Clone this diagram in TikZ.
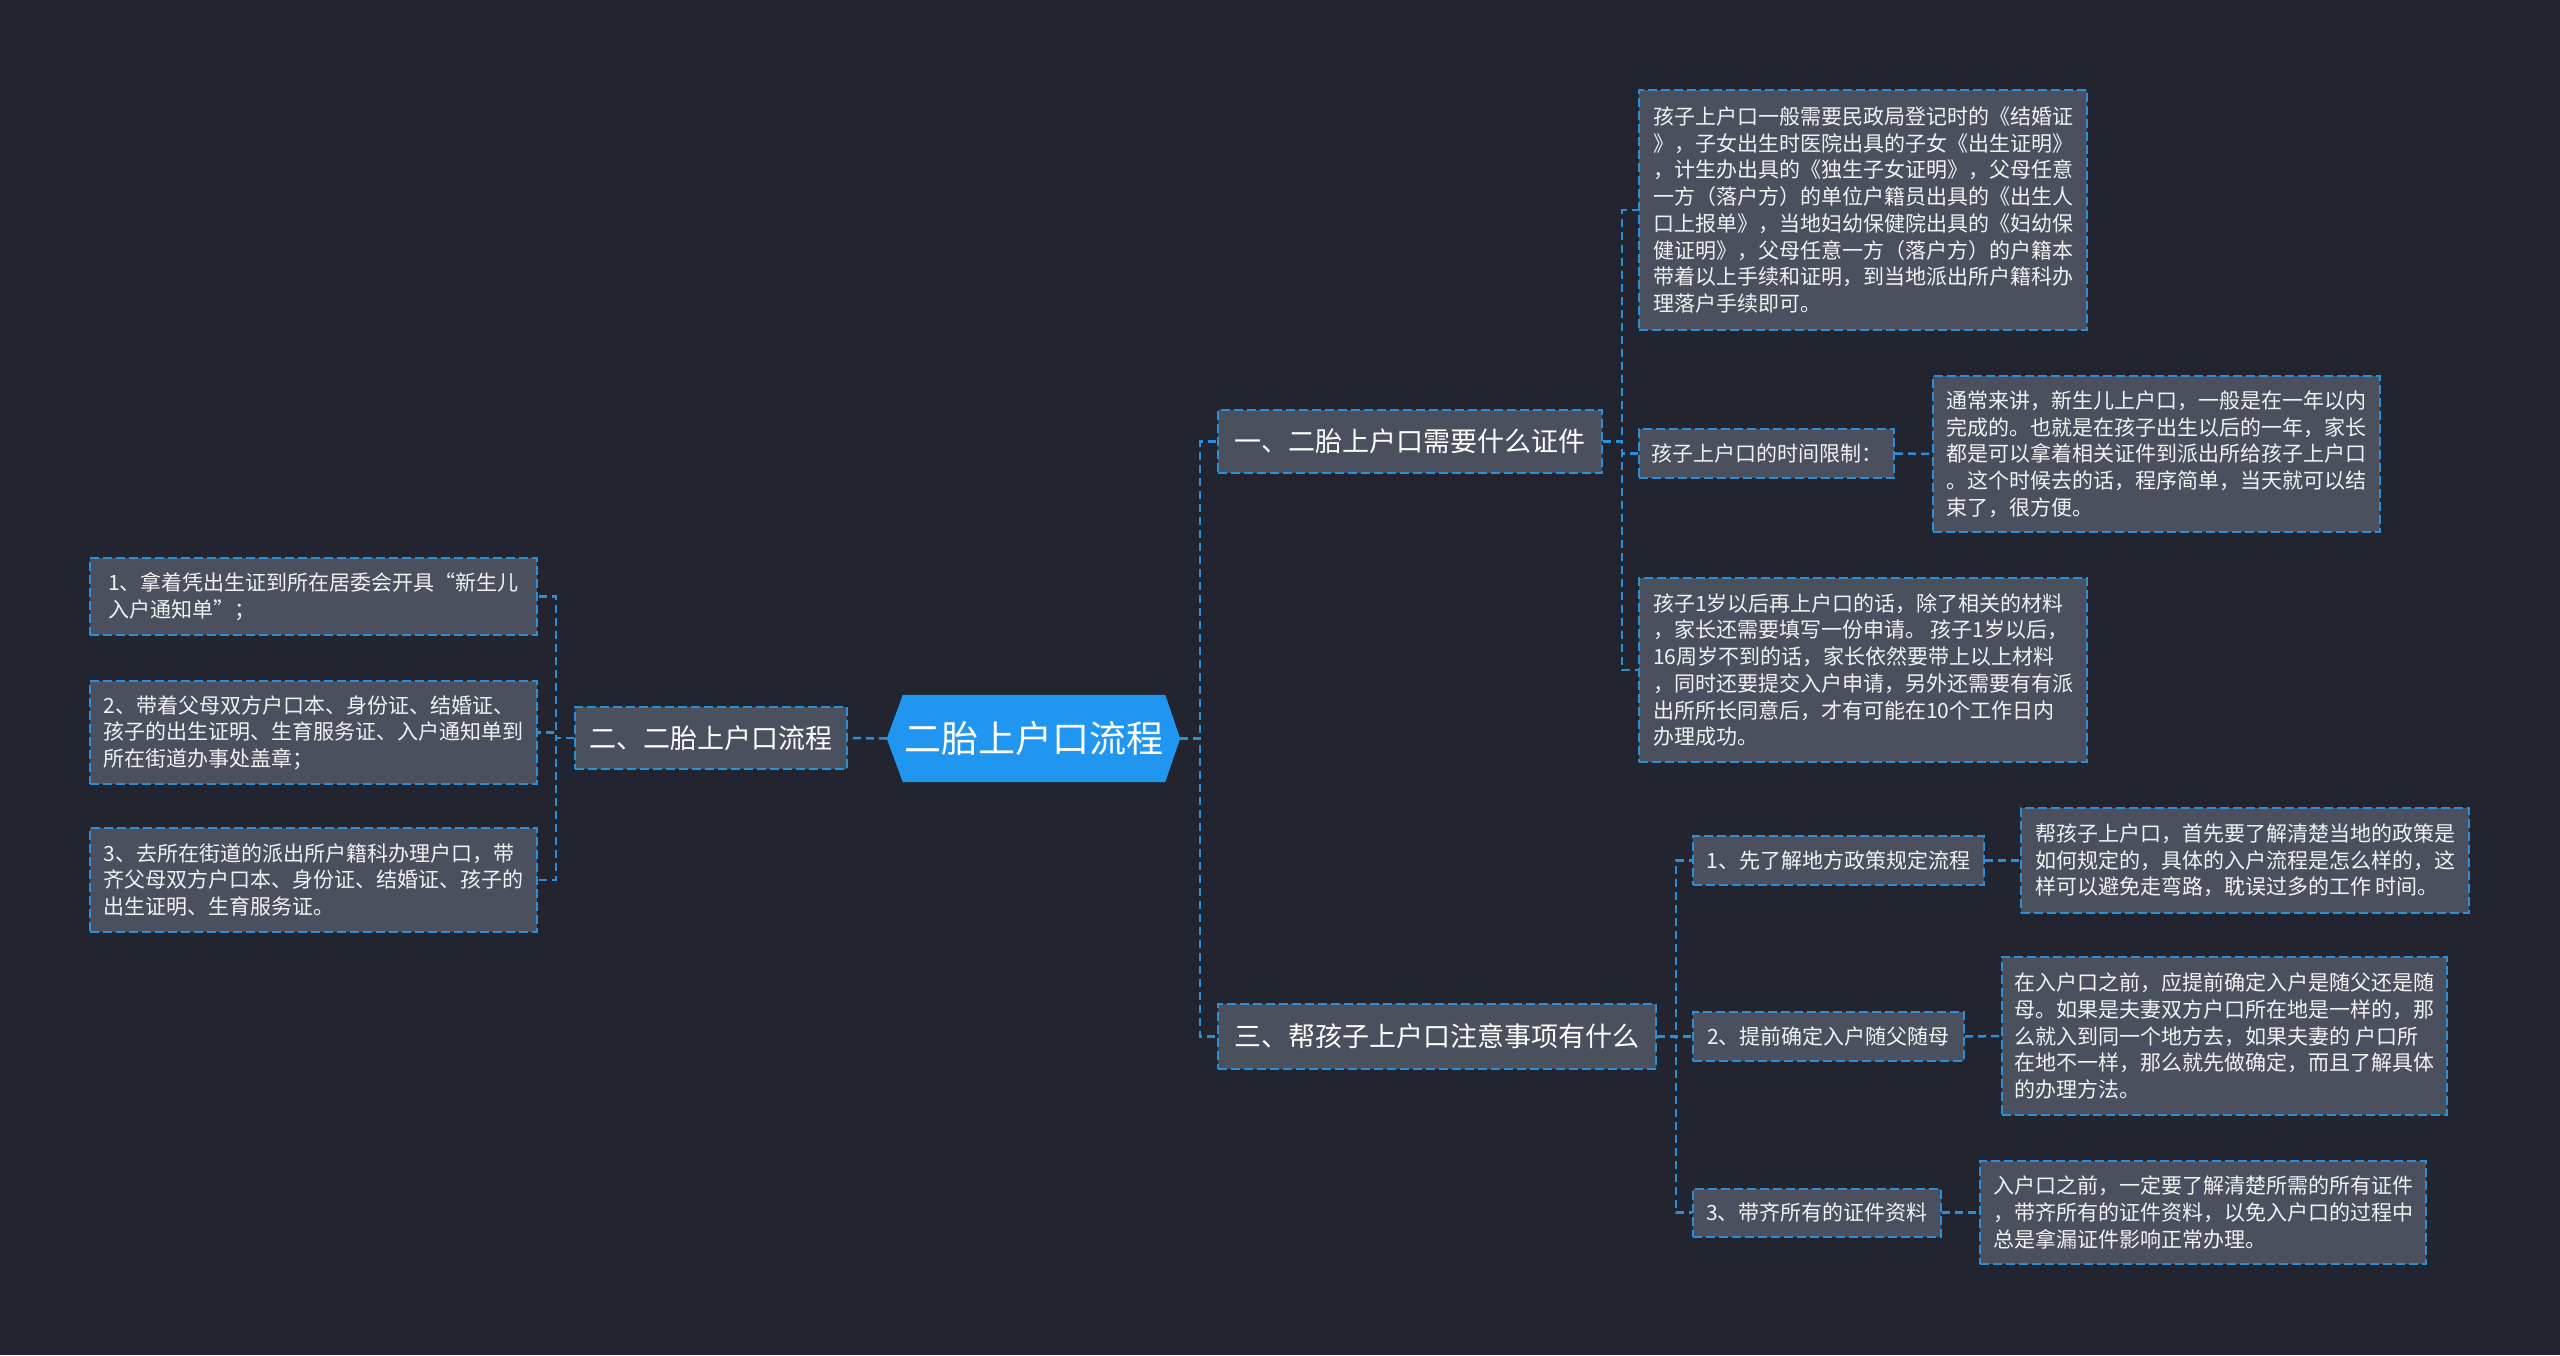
\documentclass[tikz,border=0pt]{standalone}
\usepackage{fontspec}
\newfontfamily\cjk{Noto Sans CJK SC}
\usetikzlibrary{calc}
\definecolor{bg}{HTML}{222530}
\definecolor{lineblue}{HTML}{2A8FD8}
\definecolor{hexblue}{HTML}{2196F0}
\definecolor{boxfill}{HTML}{4A505E}
\definecolor{txt}{HTML}{F2F2F2}
\pgfdeclarelayer{bottom}
\pgfdeclarelayer{hexlayer}
\pgfsetlayers{bottom,hexlayer,main}
\tikzset{
  conn/.style={draw=lineblue, line width=2.5pt, dash pattern=on 8pt off 5pt},
  box/.style={draw=lineblue, fill=boxfill, line width=2pt, dash pattern=on 9pt off 4pt,
    inner sep=0pt, align=left, text=txt, font=\cjk\fontsize{21}{26.7}\selectfont},
  lone/.style={box, text=white, font=\cjk\fontsize{27}{32}\selectfont},
  rootnode/.style={inner sep=0pt, text=white, font=\cjk\fontsize{37}{42}\selectfont,
    minimum width=293pt, minimum height=87pt}
}
\begin{document}
\begin{tikzpicture}[x=1pt,y=-1pt]
\begin{pgfonlayer}{bottom}
\fill[bg] (0,0) rectangle (2560,1355);
\end{pgfonlayer}
\useasboundingbox (0,0) rectangle (2560,1355);

% root
\node[rootnode] (root) at (1033.5,738.5) {二胎上户口流程};
\begin{pgfonlayer}{hexlayer}
\fill[hexblue] (root.west) -- ($(root.north west)+(16,0)$) -- ($(root.north east)+(-15,0)$) -- (root.east) -- ($(root.south east)+(-15,0)$) -- ($(root.south west)+(16,0)$) -- cycle;
\end{pgfonlayer}

% level 1
\node[lone, minimum width=384pt, minimum height=63pt] (L1a) at (1410,441.5) {一、二胎上户口需要什么证件};
\node[lone, minimum width=272pt, minimum height=62pt] (L1b) at (711,738) {二、二胎上户口流程};
\node[lone, minimum width=438pt, minimum height=65pt] (L1c) at (1437,1036.5) {三、帮孩子上户口注意事项有什么};

% branch 1
\node[box, minimum width=448pt, minimum height=240pt] (R1) at (1863,210) {孩子上户口一般需要民政局登记时的《结婚证\\》，子女出生时医院出具的子女《出生证明》\\，计生办出具的《独生子女证明》，父母任意\\一方（落户方）的单位户籍员出具的《出生人\\口上报单》，当地妇幼保健院出具的《妇幼保\\健证明》，父母任意一方（落户方）的户籍本\\带着以上手续和证明，到当地派出所户籍科办\\理落户手续即可。};
\node[box, minimum width=255pt, minimum height=49pt] (R2) at (1766.5,453.5) {孩子上户口的时间限制：};
\node[box, minimum width=447pt, minimum height=156pt] (R2c) at (2156.5,454) {通常来讲，新生儿上户口，一般是在一年以内\\完成的。也就是在孩子出生以后的一年，家长\\都是可以拿着相关证件到派出所给孩子上户口\\。这个时候去的话，程序简单，当天就可以结\\束了，很方便。};
\node[box, minimum width=448pt, minimum height=184pt] (R3) at (1863,670) {孩子1岁以后再上户口的话，除了相关的材料\\，家长还需要填写一份申请。 孩子1岁以后，\\16周岁不到的话，家长依然要带上以上材料\\，同时还要提交入户申请，另外还需要有有派\\出所所长同意后，才有可能在10个工作日内\\办理成功。};

% branch 3
\node[box, minimum width=291pt, minimum height=49pt] (S1) at (1838.5,860.5) {1、先了解地方政策规定流程};
\node[box, minimum width=448pt, minimum height=105pt] (S1c) at (2245,860.5) {帮孩子上户口，首先要了解清楚当地的政策是\\如何规定的，具体的入户流程是怎么样的，这\\样可以避免走弯路，耽误过多的工作 时间。};
\node[box, minimum width=271pt, minimum height=49pt] (S2) at (1828.5,1036.5) {2、提前确定入户随父随母};
\node[box, minimum width=445pt, minimum height=158pt] (S2c) at (2224.5,1036) {在入户口之前，应提前确定入户是随父还是随\\母。如果是夫妻双方户口所在地是一样的，那\\么就入到同一个地方去，如果夫妻的 户口所\\在地不一样，那么就先做确定，而且了解具体\\的办理方法。};
\node[box, minimum width=248pt, minimum height=48pt] (S3) at (1817,1212.5) {3、带齐所有的证件资料};
\node[box, minimum width=446pt, minimum height=103pt] (S3c) at (2203,1212.5) {入户口之前，一定要了解清楚所需的所有证件\\，带齐所有的证件资料，以免入户口的过程中\\总是拿漏证件影响正常办理。};

% left branch
\node[box, minimum width=447pt, minimum height=77pt] (LB1) at (313.5,596.5) {1、拿着凭出生证到所在居委会开具“新生儿\\入户通知单”；};
\node[box, minimum width=447pt, minimum height=103pt] (LB2) at (313.5,732.5) {2、带着父母双方户口本、身份证、结婚证、\\孩子的出生证明、生育服务证、入户通知单到\\所在街道办事处盖章；};
\node[box, minimum width=447pt, minimum height=104pt] (LB3) at (313.5,880) {3、去所在街道的派出所户籍科办理户口，带\\齐父母双方户口本、身份证、结婚证、孩子的\\出生证明、生育服务证。};

% connectors
\draw[conn] (root.east) -- ++(20,0) |- (L1a.west);
\draw[conn] (root.east) -- ++(20,0) |- (L1c.west);
\draw[conn] (root.west) -- (L1b.east);
\draw[conn] (L1b.west) -- ++(-18,0) |- (LB1.east);
\draw[conn] (L1b.west) -- ++(-18,0) |- (LB2.east);
\draw[conn] (L1b.west) -- ++(-18,0) |- (LB3.east);
\draw[conn] (L1a.east) -- ++(19,0) |- (R1.west);
\draw[conn] (L1a.east) -- ++(19,0) |- (R2.west);
\draw[conn] (L1a.east) -- ++(19,0) |- (R3.west);
\draw[conn] (R2.east) -- (R2c.west);
\draw[conn] (L1c.east) -- ++(19,0) |- (S1.west);
\draw[conn] (L1c.east) -- ++(19,0) |- (S2.west);
\draw[conn] (L1c.east) -- ++(19,0) |- (S3.west);
\draw[conn] (S1.east) -- (S1c.west);
\draw[conn] (S2.east) -- (S2c.west);
\draw[conn] (S3.east) -- (S3c.west);
\end{tikzpicture}
\end{document}
